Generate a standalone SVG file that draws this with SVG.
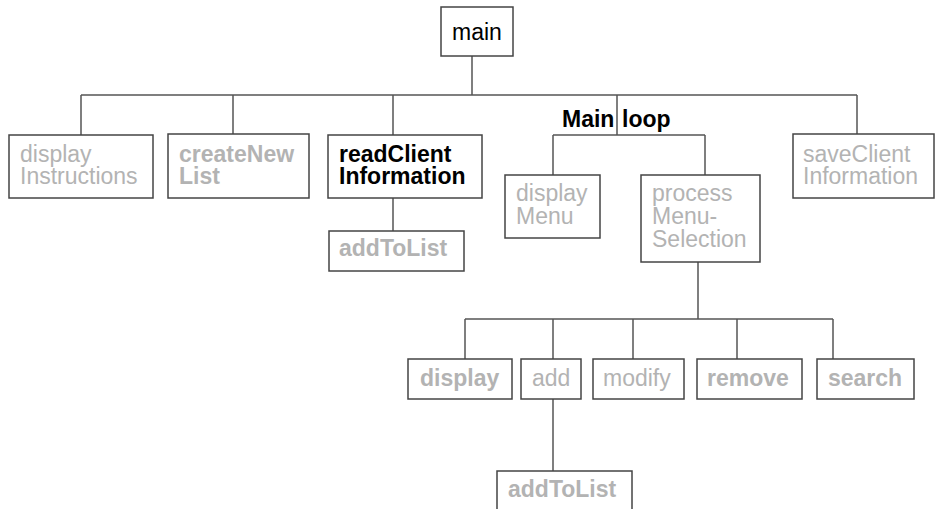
<svg xmlns="http://www.w3.org/2000/svg" width="941" height="509" viewBox="0 0 941 509">
<style>
.box{fill:#fff;stroke:#444;stroke-width:1.5}
.conn{stroke:#555;stroke-width:1.5;fill:none}
text{font-family:"Liberation Sans",Arial,sans-serif;font-size:23px}
.g{fill:#b3b3b3}
.k{fill:#000}
.b{font-weight:bold}
</style>
<rect width="941" height="509" fill="#fff"/>
<g id="connectors">
<path class="conn" d="M472 56V95M81 95H857M81 95V135M233 95V134M393 95V135M857 95V134M617 95V135M553 135H705M553 135V175M705 135V175M393 198V231M698 262V319M465 319H833M465 319V359M553 319V359M633 319V359M737 319V359M833 319V359M553 399V471"/>
</g>
<g id="main"><rect class="box" x="441" y="7" width="72" height="49"/><text class="k" x="452" y="40">main</text></g>
<g id="mainloop"><text class="k b" x="562" y="127">Main</text><text class="k b" x="622" y="127">loop</text></g>
<g id="displayInstructions"><rect class="box" x="9" y="135" width="144" height="63"/><text class="g" x="20" y="162">display</text><text class="g" x="20" y="184">Instructions</text></g>
<g id="createNewList"><rect class="box" x="168" y="134" width="141" height="64"/><text class="g b" x="179" y="162">createNew</text><text class="g b" x="179" y="184">List</text></g>
<g id="readClientInformation"><rect class="box" x="328" y="135" width="154" height="63"/><text class="k b" x="339" y="162">readClient</text><text class="k b" x="339" y="184">Information</text></g>
<g id="addToList1"><rect class="box" x="329" y="231" width="135" height="40"/><text class="g b" x="339" y="256">addToList</text></g>
<g id="displayMenu"><rect class="box" x="505" y="175" width="95" height="63"/><text class="g" x="516" y="201">display</text><text class="g" x="516" y="224">Menu</text></g>
<g id="processMenuSelection"><rect class="box" x="641" y="175" width="119" height="87"/><text class="g" x="652" y="201">process</text><text class="g" x="652" y="224">Menu-</text><text class="g" x="652" y="247">Selection</text></g>
<g id="saveClientInformation"><rect class="box" x="793" y="134" width="141" height="64"/><text class="g" x="803" y="162">saveClient</text><text class="g" x="803" y="184">Information</text></g>
<g id="display"><rect class="box" x="408" y="359" width="104" height="40"/><text class="g b" x="420" y="386">display</text></g>
<g id="add"><rect class="box" x="521" y="359" width="60" height="40"/><text class="g" x="532" y="386">add</text></g>
<g id="modify"><rect class="box" x="593" y="359" width="91" height="40"/><text class="g" x="603" y="386">modify</text></g>
<g id="remove"><rect class="box" x="697" y="359" width="105" height="40"/><text class="g b" x="707" y="386">remove</text></g>
<g id="search"><rect class="box" x="817" y="359" width="97" height="40"/><text class="g b" x="828" y="386">search</text></g>
<g id="addToList2"><rect class="box" x="497" y="471" width="135" height="41"/><text class="g b" x="508" y="497">addToList</text></g>
</svg>
